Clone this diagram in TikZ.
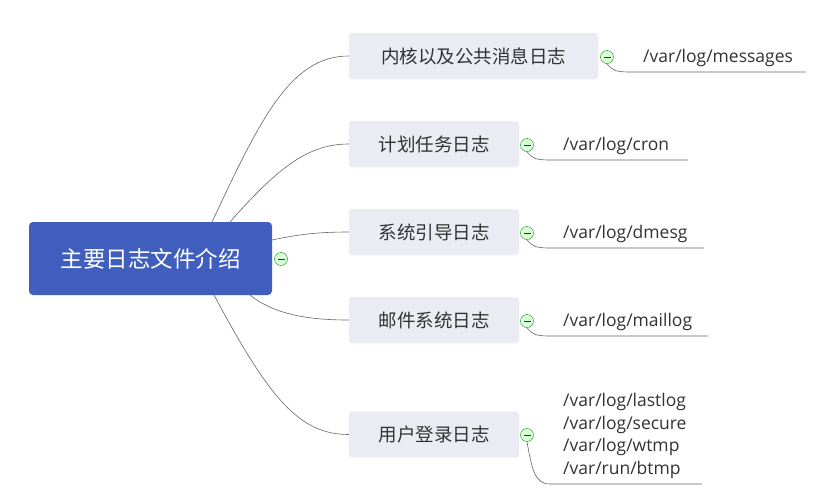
\documentclass[tikz,border=0pt]{standalone}
\usepackage{fontspec}
\setmainfont{Open Sans}
\newfontfamily\cjk{Noto Sans CJK SC}
\definecolor{topicfill}{RGB}{235,235,243}
\definecolor{rootfill}{RGB}{64,94,190}
\tikzset{
  topicbox/.style={fill=topicfill, rounded corners=3pt, minimum height=46pt, font=\cjk\fontsize{18.5}{20}\selectfont, text=black!80, inner sep=0pt},
  leaftext/.style={font=\fontsize{17.5}{22.7}\selectfont, text=black!80, anchor=west, align=left, inner sep=0pt},
  toggle/.style={circle, draw=green!55!black, fill=green!15, minimum size=13pt, inner sep=0pt, path picture={\draw[green!35!black, line width=0.8pt] ([xshift=-3.5pt]path picture bounding box.center) -- ([xshift=3.5pt]path picture bounding box.center);}},
  link/.style={draw=black!60, line width=0.6pt}
}
\begin{document}
\begin{tikzpicture}[x=1pt, y=-1pt]
\useasboundingbox (0,0) rectangle (824,499);
% central topic
\node[fill=rootfill, rounded corners=4pt, minimum width=243pt, minimum height=73pt, text=white, font=\cjk\fontsize{22.5}{24}\selectfont] (root) at (150.5,258.5) {主要日志文件介绍};
\node[toggle] (rt) at (281,259) {};
% topics
\node[topicbox, minimum width=249pt] (t1) at (473.5,56) {内核以及公共消息日志};
\node[topicbox, minimum width=170pt] (t2) at (434,144) {计划任务日志};
\node[topicbox, minimum width=170pt] (t3) at (434,232) {系统引导日志};
\node[topicbox, minimum width=170pt] (t4) at (434,320) {邮件系统日志};
\node[topicbox, minimum width=170pt] (t5) at (434,434.5) {用户登录日志};
% connectors from root
\draw[link] (212,222) .. controls (260,120) and (290,56) .. (t1.west);
\draw[link] (230,222) .. controls (280,165) and (310,144) .. (t2.west);
\draw[link] (272,240) .. controls (300,234) and (320,232) .. (t3.west);
\draw[link] (250,295) .. controls (275,315) and (310,320) .. (t4.west);
\draw[link] (214,295) .. controls (270,400) and (300,434.5) .. (t5.west);
% toggles and leaves
\node[toggle] (g1) at (607,57) {};
\node[toggle] (g2) at (527,145) {};
\node[toggle] (g3) at (527,233) {};
\node[toggle] (g4) at (527,321) {};
\node[toggle] (g5) at (527,435) {};
\node[leaftext] (l1) at (643,58) {/var/log/messages};
\node[leaftext] (l2) at (563,146) {/var/log/cron};
\node[leaftext] (l3) at (563,234) {/var/log/dmesg};
\node[leaftext] (l4) at (563,322) {/var/log/maillog};
\node[leaftext] (l5) at (563,436) {/var/log/lastlog\\/var/log/secure\\/var/log/wtmp\\/var/run/btmp};
\coordinate (u1) at (806,72);
\coordinate (u2) at (688,160);
\coordinate (u3) at (704,248);
\coordinate (u4) at (708,336);
\coordinate (u5) at (702,484);
\draw[link] (g1.south) .. controls (612,70) and (615,72) .. (630,72) -- (u1);
\draw[link] (g2.south) .. controls (532,158) and (535,160) .. (550,160) -- (u2);
\draw[link] (g3.south) .. controls (532,246) and (535,248) .. (550,248) -- (u3);
\draw[link] (g4.south) .. controls (532,334) and (535,336) .. (550,336) -- (u4);
\draw[link] (g5.south) .. controls (532,470) and (535,484) .. (550,484) -- (u5);
\end{tikzpicture}
\end{document}
